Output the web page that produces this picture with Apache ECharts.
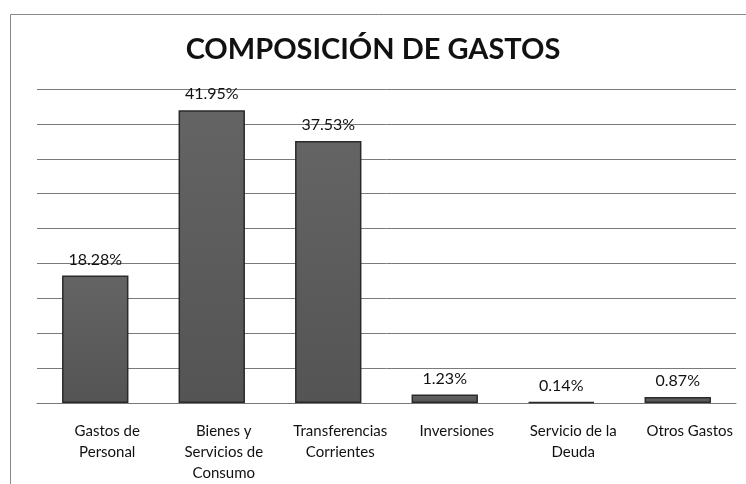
<!DOCTYPE html>
<html>
<head>
<meta charset="utf-8">
<script src="https://cdn.jsdelivr.net/npm/echarts@6/dist/echarts.min.js"></script>
<style>
  html, body { margin: 0; padding: 0; background: #fff; }
  #chartshow { width: 746px; height: 484px; }
</style>
</head>
<body>
<div id="chartshow"></div>
<script>
// categorias (con salto de linea como en el original)
const categorias = [
  'Gastos de\nPersonal',
  'Bienes y\nServicios de\nConsumo',
  'Transferencias\nCorrientes',
  'Inversiones',
  'Servicio de la\nDeuda',
  'Otros Gastos',
];
// porcentajes
const porcentajes = [18.28, 41.95, 37.53, 1.23, 0.14, 0.87];

const fuente = 'Lato, "Open Sans", sans-serif';

const myChart = echarts.init(document.getElementById('chartshow'));

const chart_option = {
  backgroundColor: '#fff',
  animation: false,
  title: {
    text: 'COMPOSICIÓN DE GASTOS',
    left: 'center',
    top: 30,
    textStyle: {
      fontFamily: fuente,
      fontSize: 29,
      fontWeight: 'bold',
      color: '#111',
    },
  },
  // marco del grafico
  graphic: [
    {
      type: 'rect',
      left: 8,
      top: 12,
      shape: { width: 740, height: 480 },
      style: { fill: 'none', stroke: '#888', lineWidth: 1 },
      silent: true,
    },
  ],
  grid: {
    left: 37,
    right: 10,
    top: 89,
    bottom: 77,
  },
  xAxis: {
    type: 'category',
    data: categorias,
    axisLine: { lineStyle: { color: '#777', width: 1 } },
    axisTick: { show: false },
    axisLabel: {
      interval: 0,
      margin: 18,
      padding: [0, 0, 0, 24],
      fontFamily: fuente,
      fontSize: 15,
      lineHeight: 21,
      color: '#111',
    },
  },
  yAxis: {
    type: 'value',
    min: 0,
    max: 45,
    interval: 5,
    axisLabel: { show: false },
    axisLine: { show: false },
    axisTick: { show: false },
    splitLine: { lineStyle: { color: '#7a7a7a', width: 1 } },
  },
  series: [
    {
      type: 'bar',
      data: porcentajes,
      barWidth: '57%',
      itemStyle: {
        color: {
          type: 'linear', x: 0, y: 0, x2: 0, y2: 1,
          colorStops: [
            { offset: 0, color: '#646464' },
            { offset: 1, color: '#545454' },
          ],
        },
        borderColor: '#2a2a2a',
        borderWidth: 1.5,
      },
      label: {
        show: true,
        position: 'top',
        distance: 8,
        fontFamily: fuente,
        fontSize: 16,
        color: '#111',
        formatter: (p) => p.value.toFixed(2) + '%',
      },
    },
  ],
};

myChart.setOption(chart_option);
</script>
</body>
</html>
